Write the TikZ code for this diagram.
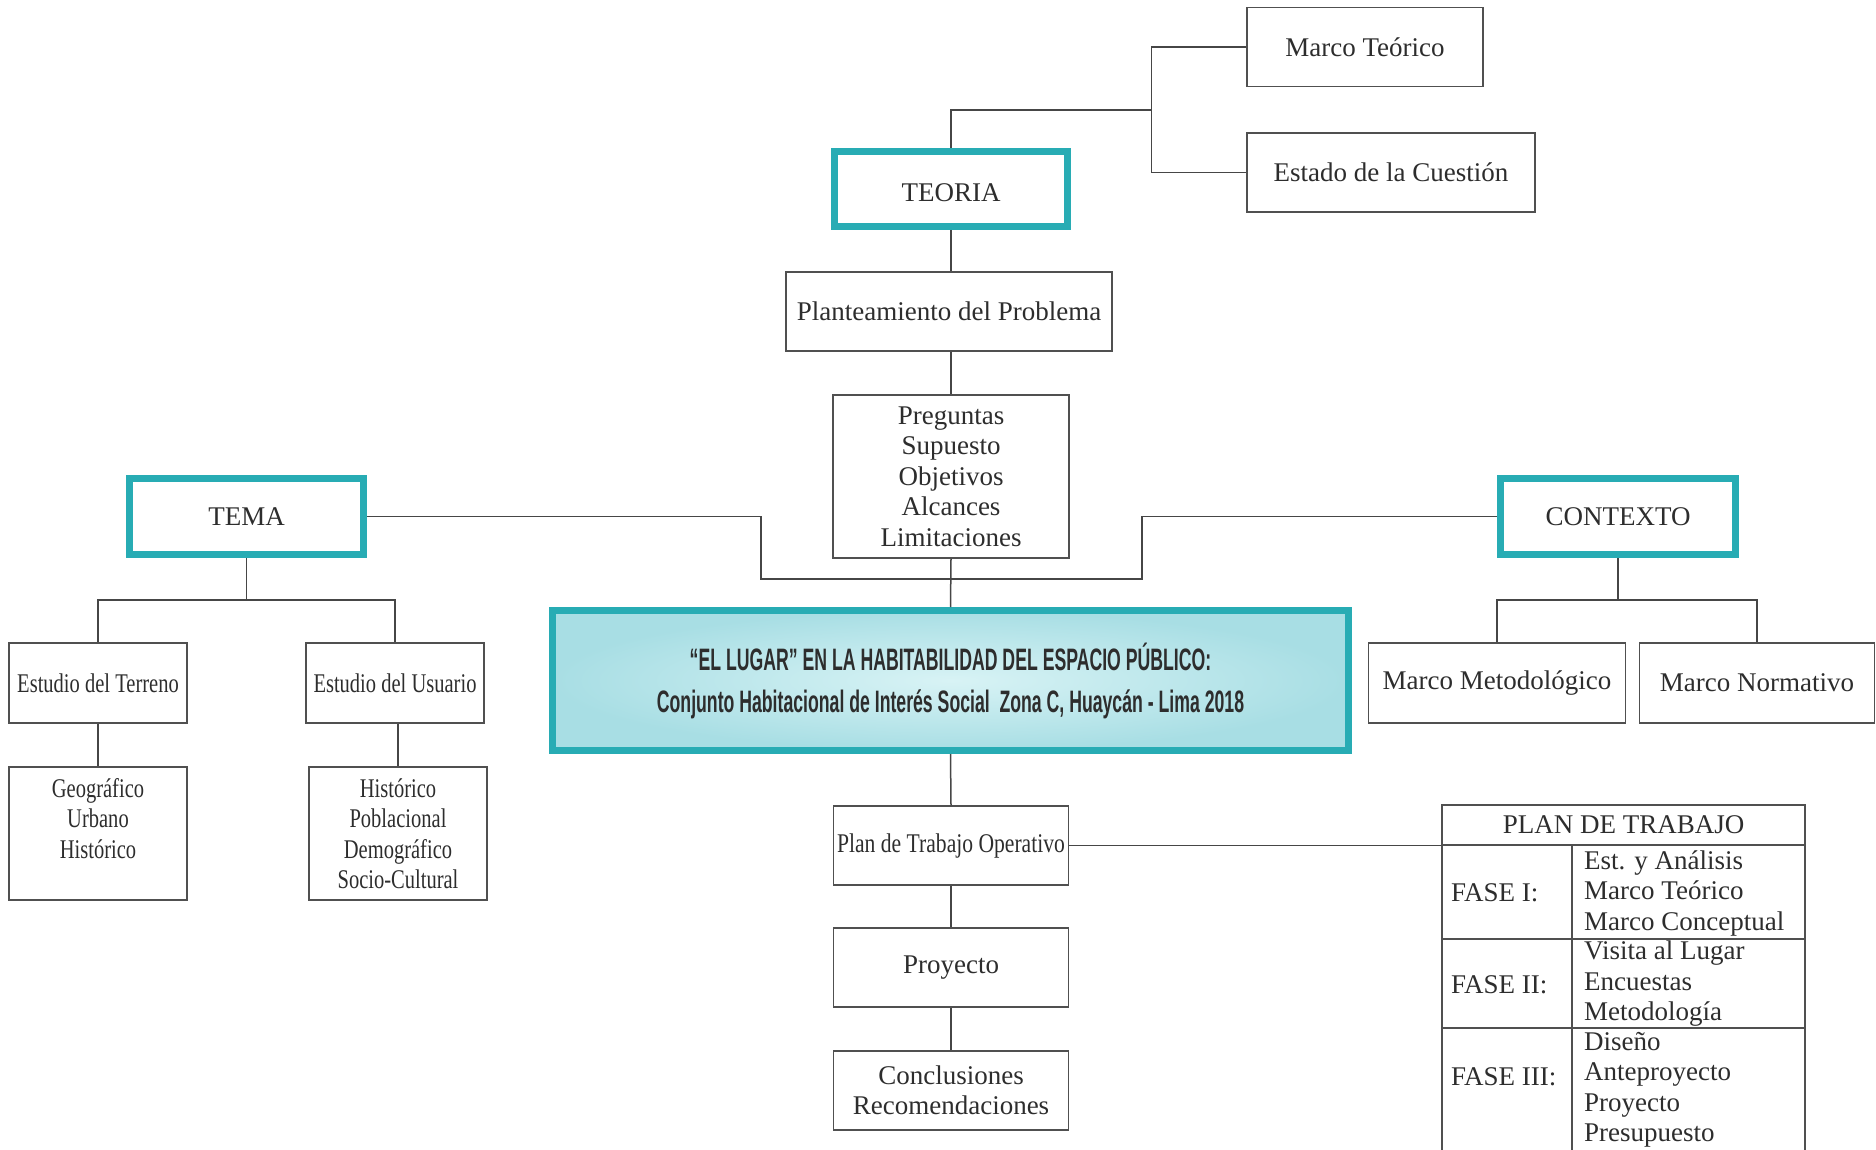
\documentclass[tikz,border=0pt]{standalone}
\usepackage{fontspec}
\setmainfont{Liberation Serif}
\newfontfamily\condf[FakeStretch=0.76]{Liberation Serif}
\newfontfamily\condp[FakeStretch=0.8]{Liberation Serif}
\newfontfamily\titlef[FakeStretch=0.57]{Liberation Sans Bold}
\definecolor{tealb}{RGB}{40,172,180}
\definecolor{txt}{RGB}{45,45,45}
\definecolor{boxc}{RGB}{80,80,80}
\definecolor{linec}{RGB}{70,70,70}
\definecolor{cin}{RGB}{216,243,245}
\definecolor{cout}{RGB}{168,222,228}
\begin{document}
\begin{tikzpicture}[x=1pt,y=-1pt,
  every node/.style={font=\fontsize{27pt}{30.5pt}\selectfont, text=txt},
  box/.style={draw=boxc, line width=1.5pt, rectangle, inner sep=0pt, align=center},
  keybox/.style={draw=tealb, line width=7pt, rectangle, inner sep=0pt, align=center},
  condbox/.style={box, font=\condf\fontsize{27pt}{30.5pt}\selectfont},
  conn/.style={draw=linec, line width=1.5pt},
  tline/.style={draw=boxc, line width=1.5pt},
  plain/.style={inner sep=0pt, align=left}
]
\useasboundingbox (0,0) rectangle (1876,1150);

% top branch
\node[box, minimum width=236pt, minimum height=79pt] (mt) at (1365,47) {Marco Teórico};
\node[box, minimum width=288pt, minimum height=79pt] (ec) at (1391,172.5) {Estado de la Cuestión};
\node[keybox, minimum width=233pt, minimum height=75pt, text height=26pt, text depth=0pt] (teoria) at (951,189) {TEORIA};
\node[box, minimum width=326pt, minimum height=79pt] (pp) at (949,311.5) {Planteamiento del Problema};
\node[box, minimum width=236pt, minimum height=163pt] (preg) at (951,476.5) {Preguntas\\Supuesto\\Objetivos\\Alcances\\Limitaciones};

% TEMA branch
\node[keybox, minimum width=234pt, minimum height=76pt] (tema) at (246.5,516.5) {TEMA};
\node[condbox, minimum width=178pt, minimum height=80pt] (terreno) at (98,683) {Estudio del Terreno};
\node[condbox, minimum width=178pt, minimum height=80pt] (usuario) at (395,683) {Estudio del Usuario};
\node[condbox, minimum width=178pt, minimum height=133pt] (geo) at (98,833.5) {Geográfico\\Urbano\\Histórico\\~};
\node[condbox, minimum width=178pt, minimum height=133pt] (hist) at (398,833.5) {Histórico\\Poblacional\\Demográfico\\Socio-Cultural};

% CONTEXTO branch
\node[keybox, minimum width=235pt, minimum height=76pt] (contexto) at (1618,516.5) {CONTEXTO};
\node[box, minimum width=257pt, minimum height=80pt] (metod) at (1497,683) {Marco Metodológico};
\node[box, minimum width=235pt, minimum height=80pt] (norm) at (1757,683) {Marco Normativo};

% central
\node[keybox, minimum width=796pt, minimum height=140pt, inner color=cin, outer color=cout,
      font=\titlef\fontsize{31pt}{42pt}\selectfont] (central) at (950.5,680.5)
  {“EL LUGAR” EN LA HABITABILIDAD DEL ESPACIO PÚBLICO:\\Conjunto Habitacional de Interés Social\ \ Zona C, Huaycán - Lima 2018};

% lower column
\node[box, minimum width=235pt, minimum height=79pt, font=\condp\fontsize{27pt}{30.5pt}\selectfont] (plan) at (951,845.5) {Plan de Trabajo Operativo};
\node[box, minimum width=235pt, minimum height=79pt] (proy) at (951,967.5) {Proyecto};
\node[box, minimum width=235pt, minimum height=79pt] (concl) at (951,1090.5) {Conclusiones\\Recomendaciones};

% table
\node[box, minimum width=363pt, minimum height=40pt] (hdr) at (1623.5,825) {PLAN DE TRABAJO};
\draw[tline] (1442,845) -- (1442,1150);
\draw[tline] (1805,845) -- (1805,1150);
\draw[tline] (1572,845) -- (1572,1150);
\draw[tline] (1442,939) -- (1805,939);
\draw[tline] (1442,1028) -- (1805,1028);
\node[plain, anchor=west] (f1) at (1451,893) {FASE I:};
\node[plain, anchor=west] (f2) at (1451,985) {FASE II:};
\node[plain, anchor=west] (f3) at (1451,1077) {FASE III:};
\node[plain, anchor=west] (r1) at (1584,893) {Est. y Análisis\\Marco Teórico\\Marco Conceptual};
\node[plain, anchor=west] (r2) at (1584,984) {Visita al Lugar\\Encuestas\\Metodología};
\node[plain, anchor=west] (r3) at (1584,1090) {Diseño\\Anteproyecto\\Proyecto\\Presupuesto};

% connectors
\coordinate (tb) at (1151.5,110);
\draw[conn] (teoria.north) |- (tb);
\draw[conn] (mt.west) -| (tb) |- (ec.west);
\draw[conn] (teoria.south) -- (teoria.south |- pp.north);
\draw[conn] (preg.north |- pp.south) -- (preg.north);
\draw[conn] (preg.south) -- (central.north);
\coordinate (jl) at (761,579);
\coordinate (jr) at (1142,579);
\draw[conn] (tema.east) -| (jl) -- (jr) |- (contexto.west);
\coordinate (tj) at (246.5,600);
\draw[conn] (tema.south) -- (tj);
\draw[conn] (terreno.north) |- (tj) -| (usuario.north);
\draw[conn] (terreno.south) -- (geo.north);
\draw[conn] (hist.north |- usuario.south) -- (hist.north);
\coordinate (cj) at (1618,600);
\draw[conn] (contexto.south) -- (cj);
\draw[conn] (metod.north) |- (cj) -| (norm.north);
\draw[conn] (central.south) -- (plan.north);
\draw[conn] (plan.south) -- (proy.north);
\draw[conn] (proy.south) -- (concl.north);
\draw[conn] (plan.east) -- (plan.east -| hdr.west);
\end{tikzpicture}
\end{document}
